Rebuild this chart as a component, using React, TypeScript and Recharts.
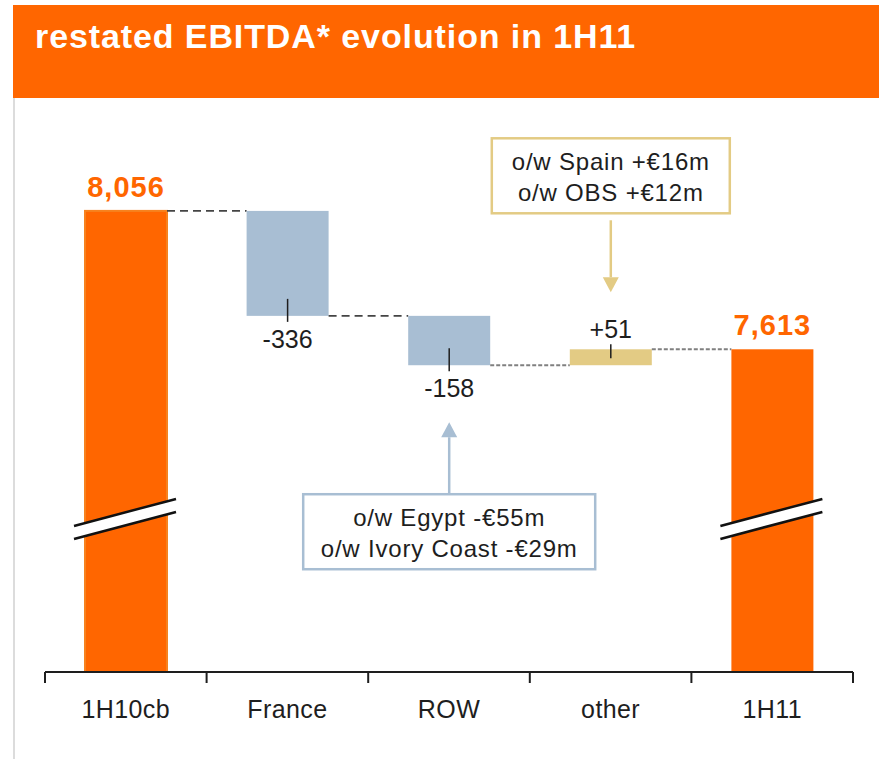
import React from 'react';
import { BarChart, Bar, XAxis, YAxis } from 'recharts';

// waterfall steps
const categories = ['1H10cb', 'France', 'ROW', 'other', '1H11'];
const stepKinds = ['total', 'delta', 'delta', 'delta', 'total'];
const stepValues = [8056, -336, -158, 51, 7613];
const valueLabels = ['8,056', '-336', '-158', '+51', '7,613'];
const noteLines = [
  [],
  [],
  ['o/w Egypt -€55m', 'o/w Ivory Coast -€29m'],
  ['o/w Spain +€16m', 'o/w OBS +€12m'],
  [],
];

// broken axis: bars start at the floor, break drawn at BREAK_AT
const AXIS_FLOOR = 6580;
const AXIS_TOP = 8411;
const BREAK_AT = 7070;

const W = 879;
const H = 759;
const MARGIN = { top: 100, right: 26, left: 45, bottom: 57 };
const BAND = (W - MARGIN.left - MARGIN.right) / categories.length;
const FONT = '"Liberation Sans", Arial, Helvetica, sans-serif';

const ORANGE = '#FF6600';
const BLUE = '#A8BED3';
const SAND = '#E3CB84';
const INK = '#1e1e1e';

const NOTE_BOX_W: Record<number, number> = { 2: 292, 3: 238 };

let running = 0;
const data = categories.map((name, i) => {
  const kind = stepKinds[i];
  let low: number;
  let high: number;
  if (kind === 'total') {
    low = AXIS_FLOOR;
    high = stepValues[i];
    running = stepValues[i];
  } else {
    const start = running;
    running = start + stepValues[i];
    low = Math.min(start, running);
    high = Math.max(start, running);
  }
  return {
    name,
    kind,
    range: [low, high],
    up: stepValues[i] >= 0,
    label: valueLabels[i],
    notes: noteLines[i],
  };
});

function NoteBox({ cx, edgeY, up, lines, boxW, color }: any) {
  // arrow points at the bar; box sits beyond it
  const dir = up ? -1 : 1;
  const tip = edgeY + dir * 57;
  const headBase = tip + dir * 15;
  const boxNear = tip + dir * 72;
  const boxH = 75;
  const boxTop = up ? boxNear - 7 - boxH : boxNear;
  const lineEnd = up ? boxTop + boxH + 7 : boxTop;
  return (
    <g>
      <line x1={cx} x2={cx} y1={headBase} y2={lineEnd} stroke={color} strokeWidth={2.5} />
      <polygon points={`${cx},${tip} ${cx - 8},${headBase} ${cx + 8},${headBase}`} fill={color} />
      <rect x={cx - boxW / 2} y={boxTop} width={boxW} height={boxH} fill="#fff" stroke={color} strokeWidth={2.5} />
      {lines.map((t: string, k: number) => (
        <text key={k} x={cx} y={boxTop + 32 + k * 31} textAnchor="middle" fontFamily={FONT} fontSize={24}
          letterSpacing={0.8} fill={INK}>{t}</text>
      ))}
    </g>
  );
}

function StepShape(props: any) {
  const { x, y, width, height, payload, index } = props;
  const total = payload.kind === 'total';
  const fill = total ? ORANGE : payload.up ? SAND : BLUE;
  const cx = x + width / 2;
  const bottom = y + height;
  const endY = total || payload.up ? y : bottom;
  const hasNext = index < categories.length - 1;
  const fine = index >= 2;
  const [low, high] = payload.range;

  let brk = null;
  if (total) {
    const yb = y + (height * (high - BREAK_AT)) / (high - low);
    const x0 = x - 11;
    const x1 = x + width + 9;
    const rise = 27;
    const gap = 13;
    const a = yb + rise / 2 - gap / 2;
    const b = yb - rise / 2 - gap / 2;
    brk = (
      <g>
        <polygon points={`${x0},${a} ${x1},${b} ${x1},${b + gap} ${x0},${a + gap}`} fill="#fff" />
        <line x1={x0} y1={a} x2={x1} y2={b} stroke="#111" strokeWidth={2.5} />
        <line x1={x0} y1={a + gap} x2={x1} y2={b + gap} stroke="#111" strokeWidth={2.5} />
      </g>
    );
  }

  return (
    <g>
      <rect x={x} y={y} width={width} height={height} fill={fill}
        stroke={index === 0 ? '#F7821E' : 'none'} strokeWidth={index === 0 ? 2 : 0} />
      {brk}
      {hasNext && (
        <line x1={x + width} x2={x + BAND} y1={endY} y2={endY}
          stroke={fine ? '#808080' : '#444'} strokeWidth={fine ? 2 : 1.8}
          strokeDasharray={fine ? '4 2' : '8 5'} />
      )}
      {total ? (
        <text x={cx} y={y - 14} textAnchor="middle" fontFamily={FONT} fontSize={29} fontWeight="bold"
          letterSpacing={1} fill={ORANGE}>{payload.label}</text>
      ) : payload.up ? (
        <g>
          <line x1={cx} x2={cx} y1={y - 5} y2={y + 9} stroke={INK} strokeWidth={1.5} />
          <text x={cx} y={y - 11} textAnchor="middle" fontFamily={FONT} fontSize={25} fill={INK}>{payload.label}</text>
        </g>
      ) : (
        <g>
          <line x1={cx} x2={cx} y1={bottom - 17} y2={bottom + 6} stroke={INK} strokeWidth={1.5} />
          <text x={cx} y={bottom + 32} textAnchor="middle" fontFamily={FONT} fontSize={25} fill={INK}>{payload.label}</text>
        </g>
      )}
      {payload.notes.length > 0 && (
        <NoteBox cx={cx} edgeY={payload.up ? y : bottom} up={payload.up} lines={payload.notes}
          boxW={NOTE_BOX_W[index] || 260} color={payload.up ? SAND : BLUE} />
      )}
    </g>
  );
}

function CategoryTick(props: any) {
  const { x, y, payload, index } = props;
  const last = index === categories.length - 1;
  return (
    <g>
      <line x1={x - BAND / 2} x2={x - BAND / 2} y1={y} y2={y + 11} stroke={INK} strokeWidth={2} />
      {last && <line x1={x + BAND / 2} x2={x + BAND / 2} y1={y} y2={y + 11} stroke={INK} strokeWidth={2} />}
      <text x={x} y={y + 46} textAnchor="middle" fontFamily={FONT} fontSize={25} letterSpacing={0.4} fill={INK}>
        {payload.value}
      </text>
    </g>
  );
}

export default function App() {
  return (
    <div style={{ position: 'absolute', left: 0, top: 0, width: W, height: H, background: '#fff', fontFamily: FONT }}>
      <div style={{ position: 'absolute', left: 13, top: 5, width: W - 13, height: 93, background: ORANGE }} />
      <div style={{
        position: 'absolute', left: 35, top: 19, fontSize: 34, lineHeight: '34px', fontWeight: 'bold',
        color: '#fff', letterSpacing: 0.9, whiteSpace: 'nowrap',
      }}>
        restated EBITDA* evolution in 1H11
      </div>
      <div style={{ position: 'absolute', left: 13, top: 98, width: 2, height: H - 98, background: '#dcdcdc' }} />
      <div style={{ position: 'absolute', left: 0, top: 0 }}>
        <BarChart width={W} height={H} data={data} margin={MARGIN} barSize={82}>
          <XAxis
            dataKey="name"
            axisLine={{ stroke: INK, strokeWidth: 2 }}
            tickLine={false}
            tickSize={0}
            tickMargin={0}
            tick={<CategoryTick />}
            interval={0}
          />
          <YAxis hide type="number" domain={[AXIS_FLOOR, AXIS_TOP]} allowDataOverflow />
          <Bar dataKey="range" shape={<StepShape />} isAnimationActive={false} />
        </BarChart>
      </div>
    </div>
  );
}
